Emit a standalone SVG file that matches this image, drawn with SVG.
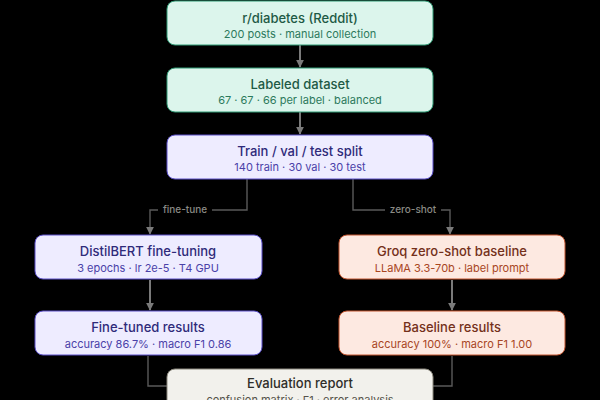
<svg xmlns="http://www.w3.org/2000/svg" width="600" height="400" viewBox="0 0 600 400">
<defs>
<marker id="arr" viewBox="0 0 10 10" refX="9" refY="5" markerWidth="8" markerHeight="8" markerUnits="userSpaceOnUse" orient="auto">
<path d="M0,0 L10,5 L0,10 z" fill="#7a7a7a"/>
</marker>
<style>
.t{font-family:Inter,"Liberation Sans",sans-serif;font-size:13px;font-weight:500;text-anchor:middle}
.s{font-family:Inter,"Liberation Sans",sans-serif;font-size:11px;text-anchor:middle}
.g rect{fill:#dcf5ec;stroke:#2f9a74;stroke-width:1}
.g .t{fill:#1e5a45}.g .s{fill:#2c7a5c}
.p rect{fill:#eeecff;stroke:#5a4fc8;stroke-width:1}
.p .t{fill:#2f2a7a}.p .s{fill:#4a41a8}
.o rect{fill:#fde9e1;stroke:#c2542e;stroke-width:1}
.o .t{fill:#74301a}.o .s{fill:#a8461f}
.n rect{fill:#f2f1ec;stroke:#8a877c;stroke-width:1}
.n .t{fill:#2e2d29}.n .s{fill:#55534b}
.c{fill:none;stroke:#7a7a7a;stroke-width:2}
.c2{fill:none;stroke:#5a5a5a;stroke-width:1.4}
.lb{font-family:Inter,"Liberation Sans",sans-serif;font-size:10px;font-weight:500;fill:#8a8a84;text-anchor:middle}
</style>
</defs>
<rect width="600" height="400" fill="#000"/>
<g id="connectors">
<path class="c" d="M300,45 V67" marker-end="url(#arr)"/>
<path class="c" d="M300,112 V134" marker-end="url(#arr)"/>
<path class="c2" d="M247,179 V210 H150 V234" marker-end="url(#arr)"/>
<path class="c2" d="M353,179 V210 H450 V234" marker-end="url(#arr)"/>
<rect x="158" y="202" width="54" height="15" fill="#000"/>
<text class="lb" x="185" y="209" dominant-baseline="central">fine-tune</text>
<rect x="385" y="202" width="56" height="15" fill="#000"/>
<text class="lb" x="413" y="209" dominant-baseline="central">zero-shot</text>
<path class="c" d="M150,280 V310" marker-end="url(#arr)"/>
<path class="c" d="M452,280 V310" marker-end="url(#arr)"/>
<path class="c2" d="M148,356 V386 H167"/>
<path class="c2" d="M452,356 V386 H433"/>
</g>
<g id="n1" class="g">
<rect x="167" y="1" width="266" height="44" rx="8"/>
<text class="t" x="300" y="18" dominant-baseline="central">r/diabetes (Reddit)</text>
<text class="s" x="300" y="34" dominant-baseline="central">200 posts · manual collection</text>
</g>
<g id="n2" class="g">
<rect x="167" y="68" width="266" height="44" rx="8"/>
<text class="t" x="300" y="84" dominant-baseline="central">Labeled dataset</text>
<text class="s" x="300" y="100" dominant-baseline="central">67 · 67 · 66 per label · balanced</text>
</g>
<g id="n3" class="p">
<rect x="167" y="135" width="266" height="44" rx="8"/>
<text class="t" x="300" y="151" dominant-baseline="central">Train / val / test split</text>
<text class="s" x="300" y="167" dominant-baseline="central">140 train · 30 val · 30 test</text>
</g>
<g id="n4" class="p">
<rect x="35" y="235" width="227" height="44" rx="8"/>
<text class="t" x="148" y="251" dominant-baseline="central">DistilBERT fine-tuning</text>
<text class="s" x="148" y="268" dominant-baseline="central">3 epochs · lr 2e-5 · T4 GPU</text>
</g>
<g id="n5" class="p">
<rect x="35" y="311" width="227" height="44" rx="8"/>
<text class="t" x="148" y="327" dominant-baseline="central">Fine-tuned results</text>
<text class="s" x="148" y="344" dominant-baseline="central">accuracy 86.7% · macro F1 0.86</text>
</g>
<g id="n6" class="o">
<rect x="339" y="235" width="226" height="44" rx="8"/>
<text class="t" x="452" y="251" dominant-baseline="central">Groq zero-shot baseline</text>
<text class="s" x="452" y="268" dominant-baseline="central">LLaMA 3.3-70b · label prompt</text>
</g>
<g id="n7" class="o">
<rect x="339" y="311" width="226" height="44" rx="8"/>
<text class="t" x="452" y="327" dominant-baseline="central">Baseline results</text>
<text class="s" x="452" y="344" dominant-baseline="central">accuracy 100% · macro F1 1.00</text>
</g>
<g id="n8" class="n">
<rect x="167" y="369" width="266" height="44" rx="8"/>
<text class="t" x="300" y="383" dominant-baseline="central">Evaluation report</text>
<text class="s" x="300" y="400" dominant-baseline="central">confusion matrix · F1 · error analysis</text>
</g>
</svg>
